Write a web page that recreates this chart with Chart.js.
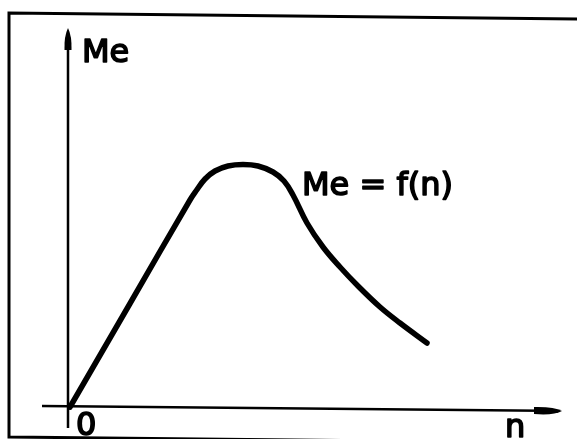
<!DOCTYPE html>
<html lang="de">
<head>
  <meta charset="UTF-8">
  <title>Me = f(n)</title>
  <script src="https://cdn.jsdelivr.net/npm/chart.js"></script>
  <style>
    html, body { margin: 0; padding: 0; background: #fff; }
    #box { width: 577px; height: 439px; }
  </style>
</head>
<body>
  <div id="box"><canvas id="chart"></canvas></div>
  <script>
    // Drehzahl n und Moment Me (willkürliche Einheiten, Ursprung bei 0)
    const nValues  = [0, 6, 12.0, 12.6, 13.5, 14.5, 15.8, 17.3, 18.8, 20.3, 21.4, 22.3, 23.7, 25.3, 27.0, 28.8, 31.0, 33.0, 35.7];
    const meValues = [0, 10.35, 20.7, 21.6, 22.8, 23.6, 24.1, 24.25, 24.1, 23.5, 22.6, 21.2, 18.4, 16.0, 14.0, 12.1, 10.0, 8.4, 6.4];

    const axisLabels = { y: 'Me', x: 'n', origin: '0', curve: 'Me = f(n)' };

    const FONT = '32px "DejaVu Sans", sans-serif';

    // Rahmen, Achsen mit Pfeilen und Beschriftung
    const axesPlugin = {
      id: 'axesPlugin',
      beforeDatasetsDraw(chart) {
        const { ctx, scales: { x, y } } = chart;
        const ox = x.getPixelForValue(0);
        const oy = y.getPixelForValue(0);
        ctx.save();
        ctx.strokeStyle = '#000';
        ctx.fillStyle = '#000';

        // Rahmen
        ctx.lineWidth = 3;
        ctx.beginPath();
        ctx.moveTo(580, 19);
        ctx.lineTo(9, 13);
        ctx.lineTo(9, 437);
        ctx.lineTo(580, 443);
        ctx.stroke();

        // y-Achse
        const yTop = y.getPixelForValue(37.9);
        ctx.lineWidth = 2.5;
        ctx.beginPath();
        ctx.moveTo(ox - 2, y.getPixelForValue(-2.1));
        ctx.lineTo(ox - 2, yTop + 18);
        ctx.stroke();
        ctx.beginPath();
        ctx.moveTo(ox - 2, yTop);
        ctx.quadraticCurveTo(ox + 2, yTop + 8, ox + 1.5, yTop + 22);
        ctx.lineTo(ox - 5.5, yTop + 22);
        ctx.quadraticCurveTo(ox - 6, yTop + 8, ox - 2, yTop);
        ctx.fill();

        // x-Achse (leicht geneigt)
        const xL = x.getPixelForValue(-2.8), xR = x.getPixelForValue(49.2);
        const yL = oy - 1, yR = oy + 4;
        ctx.lineWidth = 2.5;
        ctx.beginPath();
        ctx.moveTo(xL, yL);
        ctx.lineTo(xR - 20, yR - 0.2);
        ctx.stroke();
        ctx.beginPath();
        ctx.moveTo(xR, yR);
        ctx.quadraticCurveTo(xR - 8, yR - 4.5, xR - 28, yR - 4);
        ctx.lineTo(xR - 28, yR + 3);
        ctx.quadraticCurveTo(xR - 8, yR + 4.5, xR, yR);
        ctx.fill();
        ctx.restore();
      },
      afterDraw(chart) {
        const { ctx } = chart;
        ctx.save();
        ctx.fillStyle = '#000';
        ctx.strokeStyle = '#000';
        ctx.lineWidth = 1.6;
        ctx.lineJoin = 'round';
        ctx.font = FONT;
        ctx.textBaseline = 'alphabetic';
        const put = (t, px, py) => { ctx.fillText(t, px, py); ctx.strokeText(t, px, py); };
        put(axisLabels.y, 82, 62);
        put(axisLabels.curve, 302, 195);
        put(axisLabels.origin, 76, 435);
        put(axisLabels.x, 505, 437);
        ctx.restore();
      }
    };

    new Chart(document.getElementById('chart'), {
      type: 'scatter',
      data: {
        datasets: [{
          data: nValues.map((n, i) => ({ x: n, y: meValues[i] })),
          showLine: true,
          borderColor: '#000',
          borderWidth: 5.5,
          borderCapStyle: 'round',
          borderJoinStyle: 'round',
          pointRadius: 0,
          tension: 0.4,
          fill: false
        }]
      },
      options: {
        responsive: true,
        maintainAspectRatio: false,
        animation: false,
        layout: { padding: 0 },
        scales: {
          x: { type: 'linear', min: -7.0, max: 50.7, display: false },
          y: { type: 'linear', min: -3.2, max: 40.7, display: false }
        },
        plugins: { legend: { display: false }, tooltip: { enabled: false } }
      },
      plugins: [axesPlugin]
    });
  </script>
</body>
</html>
